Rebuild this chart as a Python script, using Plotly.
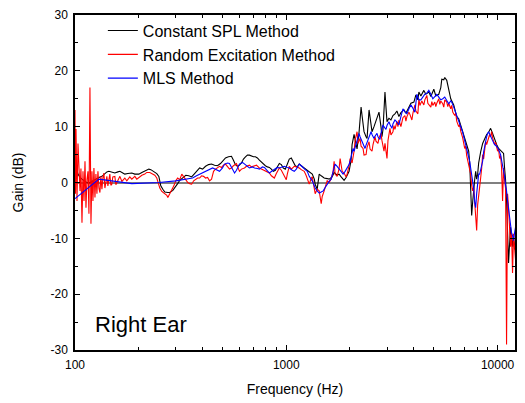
import plotly.graph_objects as go

# ---------------- data ----------------
freq_constant_spl = [100, 102.2, 103.3, 105.6, 107.9, 110.3, 112.7, 116.4, 120.3, 124.3, 127.0, 131.2, 134.1, 138.5,
                     141.5, 144.6, 149.4, 154.4, 159.6, 163.1, 168.4, 172.1, 177.9, 185.7, 191.9, 200.5, 207.2, 211.8,
                     218.6, 223.6, 228.5, 236.1, 243.8, 249.3, 254.7, 260.4, 266.1, 275.0, 281.0, 290.4, 296.4, 306.1,
                     313.3, 323.6, 334.4, 345.4, 356.5, 368.1, 380.5, 388.8, 401.6, 414.8, 428.6, 442.9, 457.5, 472.5,
                     488.2, 504.3, 515.5, 532.5, 550.2, 562.2, 574.5, 587.4, 600.3, 613.5, 627.0, 640.8, 654.8, 669.2,
                     683.9, 699.0, 714.3, 729.8, 745.9, 762.4, 779.0, 796.2, 813.7, 831.5, 849.8, 868.5, 887.5, 907.1,
                     927.0, 947.4, 968.2, 989.4, 1011, 1033, 1056, 1079, 1103, 1127, 1152, 1177, 1216, 1257, 1298, 1327,
                     1357, 1370, 1400, 1415, 1431, 1463, 1511, 1561, 1595, 1648, 1684, 1740, 1778, 1818, 1877, 1919, 1982,
                     2026, 2048, 2093, 2139, 2162, 2210, 2259, 2283, 2333, 2385, 2411, 2464, 2518, 2545, 2601, 2658, 2746,
                     2806, 2837, 2868, 2931, 2963, 2996, 3061, 3128, 3197, 3267, 3339, 3412, 3487, 3603, 3682, 3804, 3888,
                     4017, 4105, 4195, 4241, 4334, 4477, 4575, 4727, 4831, 4991, 5101, 5269, 5385, 5444, 5562, 5623, 5747,
                     5873, 6002, 6200, 6406, 6546, 6763, 6912, 7064, 7298, 7378, 7458, 7540, 7622, 7705, 7790, 7875, 7961,
                     8048, 8136, 8315, 8498, 8684, 8875, 9070, 9268, 9472, 9680, 9893, 10109, 10331, 10559, 10674, 10790,
                     10908, 11027, 11148, 11270, 11393, 11517, 11643, 11770, 11899, 12029, 12160]
gain_constant_spl = [2.6, 2.2, 1.5, 0.9, 0.6, 0.3, 0.1, -0.1, 0.2, 0.5, 0.8, 1.0, 1.1, 1.6,
                     1.9, 2.0, 1.8, 1.7, 1.9, 2.0, 1.7, 1.5, 1.6, 1.7, 1.5, 1.5, 1.8, 2.0,
                     2.3, 2.4, 2.3, 2.0, 1.6, 1.1, -0.6, -1.2, -1.7, -1.8, -1.8, -1.4, -1.0, -0.2,
                     0.4, 0.9, 1.3, 1.2, 1.0, 1.6, 2.1, 2.6, 2.4, 2.9, 3.2, 3.3, 3.1, 3.0,
                     3.4, 4.0, 4.4, 4.6, 4.7, 4.0, 3.2, 2.9, 3.1, 3.5, 4.2, 4.6, 4.9, 4.9,
                     4.7, 4.6, 4.6, 4.4, 4.0, 3.6, 3.3, 3.0, 2.8, 2.7, 2.4, 2.0, 2.2, 2.9,
                     3.4, 3.2, 2.6, 2.4, 3.2, 4.2, 4.4, 3.6, 3.0, 2.8, 3.3, 3.0, 2.6, 2.2, 1.8, 1.5,
                     0.6, -0.3, -1.2, -0.2, 1.5, 1.2, 0.8, 0.7, 0.6, 1.0, 1.8, 1.3, 1.5, 1.0, 0.4, 0.9, 2.0,
                     4.0, 6.8, 8.6, 7.0, 6.0, 9.0, 13.5, 12.0, 9.1, 8.2, 7.9, 13.0, 10.5, 9.1, 10.0, 10.9, 12.6,
                     10.0, 8.2, 9.5, 16.2, 13.5, 10.9, 11.5, 11.2, 12.0, 12.3, 12.8, 11.8, 12.5, 13.0, 12.4, 13.5, 14.2,
                     14.4, 15.7, 14.8, 16.2, 15.5, 16.5, 15.8, 16.2, 15.4, 16.7, 15.5, 15.8, 17.0, 18.5, 18.4, 18.8, 18.3,
                     16.8, 15.0, 13.9, 11.8, 11.4, 9.6, 8.8, 7.3, 5.6, 3.5, -2.7, -5.9, -3.5, -1.0, 0.5, 2.0, 0.6,
                     1.5, 3.5, 5.5, 7.0, 7.8, 8.6, 9.0, 9.7, 8.8, 7.6, 6.8, 6.1, 5.8, 5.4, 5.2, 2.6,
                     0.5, -3.3, -8.0, -14.4, -11.0, -8.0, -9.5, -11.5, -10.0, -12.0, -10.4]

freq_random = [100, 100.5, 101.1, 102.2, 103.3, 104.4, 105.6, 106.7, 107.9, 109.1, 110.3, 111.5, 112.7, 113.9, 115.2,
               116.4, 117.7, 119.0, 120.3, 121.6, 122.9, 124.3, 125.6, 127.0, 128.4, 129.8, 131.2, 132.6, 134.1, 135.5,
               137.0, 138.5, 140.0, 141.5, 143.1, 146.2, 147.8, 149.4, 151.0, 154.4, 156.1, 159.6, 163.1, 166.7, 172.1,
               175.9, 181.7, 185.7, 191.9, 196.1, 202.6, 207.2, 214.0, 218.6, 226.0, 231.0, 238.6, 243.8, 252.0, 257.5,
               266.1, 272.0, 275.0, 281.0, 287.2, 293.6, 299.8, 306.1, 313.3, 320.2, 327.3, 334.4, 341.8, 349.4, 356.5,
               364.4, 372.3, 380.5, 388.8, 397.3, 406.0, 414.8, 424.0, 433.4, 442.9, 452.6, 462.5, 472.5, 483.1, 493.5,
               504.3, 515.5, 526.6, 538.5, 550.2, 562.2, 581.0, 593.6, 600.3, 613.5, 634.0, 647.8, 669.2, 683.9, 706.6,
               722.1, 745.9, 762.4, 787.6, 804.9, 831.5, 849.8, 877.9, 897.2, 927.0, 947.4, 978.6, 1000, 1011, 1033,
               1056, 1091, 1115, 1152, 1177, 1216, 1243, 1284, 1313, 1327, 1341, 1370, 1400, 1431, 1463, 1479, 1511,
               1528, 1561, 1595, 1630, 1666, 1684, 1702, 1740, 1778, 1798, 1838, 1877, 1919, 1940, 1982, 2004, 2048,
               2093, 2116, 2162, 2186, 2234, 2259, 2308, 2333, 2385, 2411, 2464, 2491, 2545, 2573, 2629, 2658, 2716,
               2746, 2806, 2837, 2900, 2931, 2996, 3028, 3095, 3128, 3197, 3232, 3267, 3339, 3375, 3412, 3487, 3525,
               3564, 3642, 3682, 3722, 3804, 3846, 3930, 3973, 4061, 4105, 4195, 4241, 4287, 4380, 4477, 4526, 4625,
               4676, 4727, 4831, 4884, 4937, 5045, 5101, 5156, 5269, 5327, 5385, 5503, 5562, 5623, 5747, 5810, 5873,
               6002, 6067, 6134, 6268, 6337, 6406, 6546, 6618, 6690, 6763, 6837, 6987, 7064, 7141, 7219, 7298, 7378,
               7458, 7540, 7622, 7705, 7790, 7875, 7961, 8048, 8136, 8225, 8315, 8406, 8498, 8590, 8684, 8779, 8875,
               8972, 9070, 9169, 9268, 9370, 9472, 9575, 9680, 9786, 9893, 10000, 10109, 10220, 10331, 10444, 10559,
               10674, 10790, 10908, 11027, 11088, 11148, 11270, 11393, 11517, 11643, 11770, 11899, 12029, 12160]
gain_random = [13.0, -2.0, 9.6, -3.3, 7.0, 0.8, -1.5, 2.5, -7.2, 2.0, -3.3, 3.8, -4.5, 0.5, 2.0,
               -5.6, 17.0, -7.4, 2.0, -3.3, 2.6, -2.7, 1.5, -2.0, 2.0, -1.0, -1.8, 1.1, -1.2, 0.8,
               1.7, -1.0, 0.5, 1.1, -0.6, 1.5, -0.5, -0.3, 1.0, 1.1, -0.4, 0.3, 1.1, 0.2, 0.8,
               0.3, 1.0, 0.6, 1.1, 0.6, 1.1, 1.3, 1.5, 1.8, 1.8, 1.6, 1.3, 0.8, -1.0, -1.6,
               -2.0, -2.3, -2.7, -2.0, -1.5, -0.6, 0.3, 0.8, 0.5, 1.5, 1.0, 0.4, 0.0, -0.2, -0.3,
               0.3, 0.5, 0.8, 0.8, 1.2, 1.1, 0.8, 0.9, 0.3, 0.6, 2.0, 2.4, 2.6, 2.9, 2.7,
               3.1, 3.3, 2.9, 2.4, 2.6, 3.0, 3.4, 2.5, 2.0, 2.4, 2.6, 2.9, 3.1, 2.8, 2.9,
               3.1, 2.6, 2.4, 2.2, 2.0, 1.7, 1.2, 0.8, 1.6, 2.6, 2.2, 1.1, 0.5, 1.5, 2.9,
               2.4, 2.9, 2.8, 2.6, 2.3, 2.0, 1.2, -0.3, 0.8, 1.0, 0.0, -2.0, -1.2, -1.5, -3.8, -2.5, -1.5,
               -0.8, 0.3, 0.0, 0.6, 2.0, 3.8, 1.5, 1.1, 2.5, 4.3, 2.0, 1.7, 1.0, 1.5, 3.0, 4.3, 3.5,
               5.6, 7.5, 9.1, 7.0, 7.9, 6.5, 6.1, 4.9, 5.0, 6.3, 7.3, 6.0, 5.6, 6.8, 8.2, 7.4, 7.0,
               8.0, 8.8, 7.5, 5.6, 7.0, 4.3, 7.5, 9.7, 8.5, 9.1, 10.2, 9.5, 10.9, 10.0, 11.2, 10.0, 10.8,
               11.6, 12.0, 11.0, 11.8, 12.6, 12.2, 11.2, 12.4, 13.9, 12.8, 12.3, 15.0, 13.8, 14.6, 13.9, 14.8, 15.6,
               14.2, 14.0, 13.5, 14.5, 13.8, 14.4, 13.6, 14.2, 15.0, 14.0, 14.6, 14.1, 13.5, 14.8, 14.4, 13.6, 14.2,
               13.2, 13.8, 12.6, 12.0, 12.4, 11.0, 10.0, 10.4, 9.2, 8.6, 8.0, 6.1, 6.5, 4.8, 3.8, 3.0, 2.0,
               1.5, -0.5, -1.5, -0.8, -3.3, -5.0, -8.6, -4.0, -2.7, -1.0, 0.8, 2.5, 5.0, 4.2, 6.0, 7.3, 6.8,
               7.5, 7.9, 8.6, 8.2, 9.1, 8.0, 7.5, 6.8, 7.2, 6.0, 5.6, 6.0, 4.3, 4.8, 2.6, -3.3,
               2.6, 0.5, -1.0, -29.0, -6.0, -2.0, -4.5, -8.0, -11.5, -9.0, -16.2, -9.2, -12.0, -13.9]

freq_mls = [100, 129.8, 185.7, 250, 300, 313.3, 334.4, 360, 376, 389, 406, 424, 448, 467, 483, 499, 510, 527, 538,
            556, 569, 581, 600, 620, 634, 655, 669, 691, 707, 730, 746, 771, 788, 814, 832, 859, 878, 907, 927, 958,
            979, 1011, 1033, 1067, 1091, 1115, 1152, 1177, 1203, 1229, 1257, 1284, 1327, 1370, 1400, 1431, 1463, 1495,
            1528, 1561, 1595, 1630, 1666, 1702, 1740, 1778, 1818, 1857, 1898, 1940, 1982, 2004, 2026, 2070, 2093, 2139,
            2162, 2210, 2234, 2283, 2308, 2359, 2385, 2437, 2464, 2518, 2545, 2601, 2629, 2687, 2716, 2776, 2806, 2868,
            2900, 2963, 2996, 3061, 3095, 3162, 3197, 3267, 3339, 3412, 3487, 3564, 3642, 3722, 3804, 3888, 3973, 4061,
            4150, 4241, 4334, 4429, 4526, 4625, 4727, 4831, 4937, 5045, 5156, 5269, 5385, 5503, 5623, 5747, 5873, 6002,
            6067, 6200, 6268, 6406, 6476, 6618, 6690, 6837, 6912, 7064, 7141, 7298, 7378, 7458, 7540, 7622, 7705, 7790,
            7875, 7961, 8048, 8136, 8225, 8315, 8406, 8498, 8590, 8684, 8779, 8875, 8972, 9070, 9169, 9268, 9370, 9472,
            9575, 9680, 9893, 10109, 10331, 10444, 10674, 10790, 10908, 11027, 11148, 11270, 11393, 11517, 11643,
            11770, 11899, 12029, 12160]
gain_mls = [-2.9, 0.6, -0.2, 0.0, 0.3, 0.4, 0.6, 0.8, 1.2, 1.5, 1.8, 2.2, 2.6, 2.3, 2.0, 2.6, 3.3, 3.5, 3.4,
            2.4, 1.7, 2.2, 3.3, 3.6, 3.3, 2.9, 2.6, 2.8, 2.6, 2.5, 2.4, 2.8, 2.7, 2.1, 1.7, 2.1, 2.4, 2.7, 2.6, 2.8,
            2.9, 2.7, 2.6, 2.2, 2.0, 2.4, 3.3, 3.0, 2.6, 2.3, 2.0, 1.1, 0.3, -1.0, -1.5, -1.9, -1.7, -1.5,
            -0.9, -0.3, 0.2, 0.6, 2.0, 3.3, 2.9, 2.4, 1.9, 1.5, 2.0, 2.6, 3.2, 3.8, 4.6, 6.1, 5.6, 6.8,
            7.6, 8.8, 8.2, 7.3, 6.8, 6.1, 6.7, 7.7, 8.4, 9.1, 8.6, 7.9, 8.3, 8.8, 8.2, 7.7, 8.8, 10.3,
            10.0, 9.5, 10.2, 10.9, 10.4, 9.7, 10.5, 11.2, 10.8, 10.3, 11.8, 13.2, 12.7, 12.3, 13.2, 13.9, 13.3, 12.6,
            15.8, 14.8, 14.8, 15.4, 15.8, 16.0, 16.5, 15.8, 15.0, 15.4, 15.8, 15.3, 14.8, 15.0, 15.3, 14.7, 14.1, 14.6,
            14.4, 13.5, 13.0, 12.0, 11.4, 10.8, 10.3, 9.0, 8.2, 6.8, 5.9, 4.5, 3.8, 2.6, 1.5, 0.2, -1.0, -3.5,
            -4.5, -2.0, 0.8, 1.5, 1.5, 2.3, 3.0, 3.8, 5.5, 6.5, 7.9, 8.2, 8.8, 9.1, 8.7, 8.4, 7.9, 7.5,
            7.2, 6.8, 6.5, 5.9, 5.0, 4.1, 2.5, 1.1, -0.5, -1.5, -3.3, -5.0, -6.5, -8.0, -9.0,
            -9.5, -10.4, -9.0, -8.0]

series_names = ["Constant SPL Method", "Random Excitation Method", "MLS Method"]
series_colors = ["#000000", "#ff0000", "#0000ff"]

x_tick_vals = [100, 1000, 10000]
x_tick_text = ["100", "1000", "10000"]
x_minor_vals = [200, 300, 400, 500, 600, 700, 800, 900,
                2000, 3000, 4000, 5000, 6000, 7000, 8000, 9000]
y_tick_vals = [-30, -20, -10, 0, 10, 20, 30]
y_tick_text = ["-30", "-20", "-10", "0", "10", "20", "30"]

FONT = "Arial, 'Liberation Sans', Helvetica, sans-serif"

fig = go.Figure()
for name, color, fx, gy in zip(series_names, series_colors,
                               [freq_constant_spl, freq_random, freq_mls],
                               [gain_constant_spl, gain_random, gain_mls]):
    fig.add_trace(go.Scatter(x=fx, y=gy, mode="lines", name=name,
                             line=dict(color=color, width=1.1)))

axis_common = dict(showline=True, linecolor="black", linewidth=1.5, mirror="ticks",
                   ticks="inside", tickcolor="black", tickwidth=1, ticklen=5,
                   showgrid=False, ticklabelstandoff=3,
                   tickfont=dict(family=FONT, size=12, color="black"))

fig.update_layout(
    width=525, height=403,
    margin=dict(l=75, r=8, t=12, b=52),
    paper_bgcolor="white", plot_bgcolor="white",
    font=dict(family=FONT, color="black"),
    showlegend=True,
    legend=dict(x=0.0633, y=1.004, xanchor="left", yanchor="top",
                bgcolor="rgba(0,0,0,0)", borderwidth=0,
                font=dict(family=FONT, size=16, color="black")),
    xaxis=dict(type="log", range=[2, 4.0824], tickvals=x_tick_vals, ticktext=x_tick_text,
               minor=dict(tickvals=x_minor_vals, ticks="inside", ticklen=3, tickcolor="black"),
               title=dict(text="Frequency (Hz)", font=dict(family=FONT, size=14), standoff=13),
               zeroline=False, **axis_common),
    yaxis=dict(range=[-30, 30], tickvals=y_tick_vals, ticktext=y_tick_text,
               minor=dict(dtick=5, ticks="inside", ticklen=3, tickcolor="black"),
               title=dict(text="Gain (dB)", font=dict(family=FONT, size=14), standoff=24),
               zeroline=True, zerolinecolor="#808080", zerolinewidth=1.5, **axis_common),
    annotations=[dict(text="Right Ear", xref="paper", yref="paper", x=0.041, y=0.077,
                      xanchor="left", yanchor="middle", showarrow=False,
                      font=dict(family=FONT, size=22, color="black"))],
)

fig.write_html("out.html", config={"displayModeBar": False},
               post_script="document.body.style.margin='0px';")
